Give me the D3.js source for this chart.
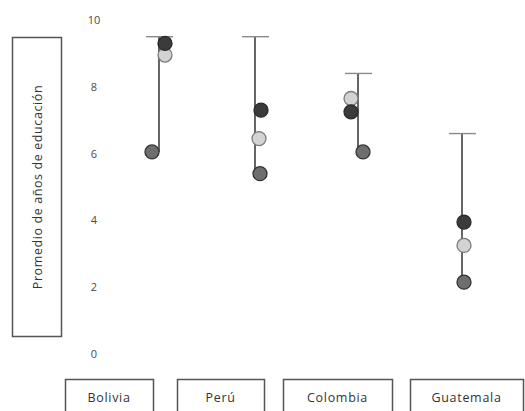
<!DOCTYPE html>
<html>
<head>
<meta charset="utf-8">
<script src="https://cdn.jsdelivr.net/npm/d3@7"></script>
<style>
  html, body { margin: 0; padding: 0; background: #fff; }
  svg { display: block; font-family: "Open Sans", "DejaVu Sans", sans-serif; }
</style>
</head>
<body>
<svg id="chart" width="525" height="411"></svg>
<script>
// Average years of schooling by country: three groups plus the upper reference cap
const countries = ["Bolivia", "Perú", "Colombia", "Guatemala"];
const capValues = [9.5, 9.5, 8.4, 6.6];
const darkValues = [9.3, 7.3, 7.25, 3.95];
const lightValues = [8.95, 6.45, 7.65, 3.25];
const midValues = [6.05, 5.4, 6.05, 2.15];
const yTicks = [0, 2, 4, 6, 8, 10];
const yLabel = "Promedio de años de educación";

const svg = d3.select("#chart");

// layout
const yScale = d3.scaleLinear().domain([0, 10]).range([354, 20]);
const xScale = d3.scalePoint().domain(countries).range([159, 462]);
const lineNudge = { "Bolivia": 0, "Perú": -5, "Colombia": -3, "Guatemala": 0 };
const dotNudge = {
  dark:  { "Bolivia": 6, "Perú": 6, "Colombia": -7, "Guatemala": 2 },
  light: { "Bolivia": 6, "Perú": 4, "Colombia": -7, "Guatemala": 2 },
  mid:   { "Bolivia": -7, "Perú": 5, "Colombia": 5, "Guatemala": 2 }
};
const labelBoxes = { "Bolivia": [65, 153], "Perú": [177, 264], "Colombia": [283, 392], "Guatemala": [410, 523] };

const lineX = c => xScale(c) + lineNudge[c];

// y tick labels (no axis line)
const yAxis = d3.axisLeft(yScale).tickValues(yTicks).tickSize(0).tickPadding(0);
const yAxisG = svg.append("g").attr("transform", "translate(98,0)").call(yAxis);
yAxisG.select(".domain").remove();
yAxisG.selectAll("text")
  .attr("text-anchor", "middle")
  .attr("x", -4)
  .attr("fill", "#4a4a4a")
  .attr("font-size", 11)
  .attr("font-family", "\"Open Sans\", sans-serif");

// y axis title in a framed box
svg.append("rect")
  .attr("x", 12.5).attr("y", 37.5).attr("width", 49).attr("height", 299)
  .attr("fill", "none").attr("stroke", "#555").attr("stroke-width", 1.5);
svg.append("text")
  .attr("transform", "translate(41.5,187) rotate(-90)")
  .attr("text-anchor", "middle")
  .attr("font-size", 12.5)
  .attr("letter-spacing", 0.6)
  .attr("fill", "#333")
  .text(yLabel);

// range lines from lowest group value up to the cap
const rows = countries.map((c, i) => ({
  c, cap: capValues[i], dark: darkValues[i], light: lightValues[i], mid: midValues[i]
}));

svg.append("g").selectAll("line.stem").data(rows).join("line")
  .attr("class", "stem")
  .attr("x1", d => lineX(d.c)).attr("x2", d => lineX(d.c))
  .attr("y1", d => yScale(d.cap))
  .attr("y2", d => yScale(Math.min(d.dark, d.light, d.mid)))
  .attr("stroke", "#555").attr("stroke-width", 1.8);

svg.append("g").selectAll("line.cap").data(rows).join("line")
  .attr("class", "cap")
  .attr("x1", d => lineX(d.c) - 13).attr("x2", d => lineX(d.c) + 14)
  .attr("y1", d => yScale(d.cap)).attr("y2", d => yScale(d.cap))
  .attr("stroke", "#8a8a8a").attr("stroke-width", 1.4);

// group markers
const groups = [
  { key: "mid", fill: "#6e6e6e", stroke: "#333" },
  { key: "light", fill: "#d3d3d3", stroke: "#7a7a7a" },
  { key: "dark", fill: "#3b3b3b", stroke: "#2a2a2a" }
];
groups.forEach(g => {
  svg.append("g").selectAll("circle").data(rows).join("circle")
    .attr("cx", d => lineX(d.c) + dotNudge[g.key][d.c])
    .attr("cy", d => yScale(d[g.key]))
    .attr("r", 7)
    .attr("fill", g.fill)
    .attr("stroke", g.stroke)
    .attr("stroke-width", 1.3);
});

// category labels in framed boxes
const cat = svg.append("g").selectAll("g").data(countries).join("g");
cat.append("rect")
  .attr("x", c => labelBoxes[c][0] + 0.5)
  .attr("y", 379.5)
  .attr("width", c => labelBoxes[c][1] - labelBoxes[c][0])
  .attr("height", 40)
  .attr("fill", "none").attr("stroke", "#555").attr("stroke-width", 1.5);
cat.append("text")
  .attr("x", c => (labelBoxes[c][0] + labelBoxes[c][1]) / 2)
  .attr("y", 401.5)
  .attr("text-anchor", "middle")
  .attr("font-size", 12.5)
  .attr("letter-spacing", 0.7)
  .attr("fill", "#333")
  .text(c => c);
</script>
</body>
</html>
